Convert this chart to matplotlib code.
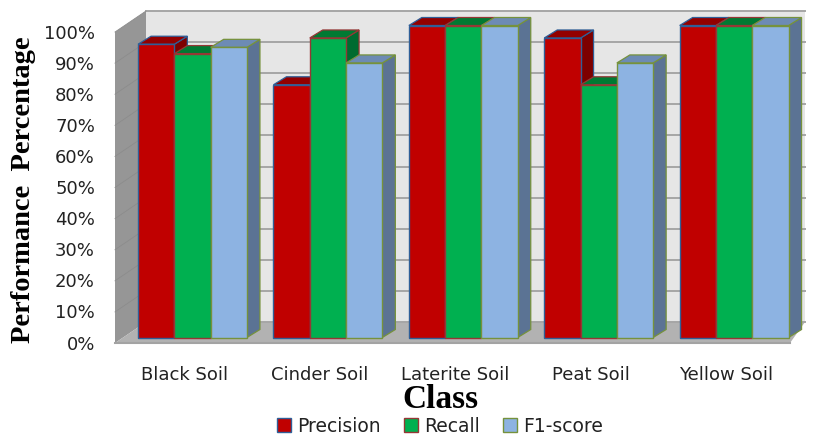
import matplotlib
matplotlib.use("Agg")
import matplotlib.pyplot as plt
import numpy as np

classes = ["Black Soil", "Cinder Soil", "Laterite Soil", "Peat Soil", "Yellow Soil"]
precision = [94, 81, 100, 96, 100]
recall = [91, 96, 100, 81, 100]
f1_score = [93, 88, 100, 88, 100]
ticks = list(range(0, 101, 10))

series = [
    ("Precision", precision, "#c00000", "#930000", "#7d0000", "#2f5f98"),
    ("Recall", recall, "#00b050", "#007a33", "#006b30", "#953735"),
    ("F1-score", f1_score, "#8db3e2", "#6d8bb4", "#5b7394", "#76923c"),
]

W, H = 815, 436
fig = plt.figure(figsize=(W / 100, H / 100), dpi=100)
ax = fig.add_axes([0, 0, 1, 1])

# map the whole figure to category / percent units
px_per_group = 135.4
px_per_pct = 3.12
x0_px = 192.5
y0_px = 337.5
ax.set_xlim((0 - x0_px) / px_per_group, (W - x0_px) / px_per_group)
ax.set_ylim((y0_px - H) / px_per_pct, y0_px / px_per_pct)
ax.axis("off")


def px(x, y):
    return (x - x0_px) / px_per_group, (y0_px - y) / px_per_pct


def poly(points, **kw):
    xs, ys = zip(*[px(a, b) for a, b in points])
    ax.fill(xs, ys, **kw)


# walls and floor
poly([(146, 11), (805, 11), (805, 322), (146, 322)], fc="#e6e6e6", ec="none", zorder=1)
poly([(115, 32), (146, 11), (146, 322), (115, 343)], fc="#969696", ec="none", zorder=1)
poly([(146, 322), (805, 322), (790, 343), (115, 343)], fc="#b2b2b2", ec="none", zorder=1)

for t in ticks:
    yb = 322 - 3.11 * t
    yf = 343 - 3.11 * t
    xa, ya = px(146, yb)
    xb, _ = px(805, yb)
    ax.plot([xa, xb], [ya, ya], color="#a6a6a6", lw=1.4, zorder=2)
    if t > 0:
        xc, yc = px(115, yf)
        ax.plot([xc, xa], [yc, ya], color="#8c8c8c", lw=0.6, zorder=2)
    ax.text(*px(95, yf + 1.5), f"{t}%", ha="right", va="center", fontsize=13,
            family="DejaVu Sans", color="#222222", zorder=5)
xa, ya = px(115, 343)
xb, _ = px(790, 343)
ax.plot([xa, xb], [ya, ya], color="#a3a3a3", lw=1.5, zorder=2)

# bars
bar_w = 36.3 / px_per_group
depth_x = 13 / px_per_group
depth_y = 8 / px_per_pct
z = 3
for g in range(len(classes)):
    for s, (name, vals, front, top, side, edge) in enumerate(series):
        x = g + (s - 1) * bar_w
        v = vals[g]
        l, r = x - bar_w / 2, x + bar_w / 2
        ax.fill([r, r + depth_x, r + depth_x, r], [0, depth_y, v + depth_y, v],
                fc=side, ec=edge, lw=0.9, zorder=z)
        ax.fill([l, r, r + depth_x, l + depth_x], [v, v, v + depth_y, v + depth_y],
                fc=top, ec=edge, lw=0.9, zorder=z)
        ax.bar(x, v, width=bar_w, color=front, edgecolor=edge, lw=1.0, zorder=z + 1,
               label=name if g == 0 else None)
        z += 2

for g, name in enumerate(classes):
    ax.text(g - 0.06, px(0, 375)[1], name, ha="center", va="center", fontsize=13,
            family="DejaVu Sans", color="#222222")

ax.text(*px(440, 399), "Class", ha="center", va="center", fontsize=24, fontweight="bold",
        family="Liberation Serif", color="black")
ax.text(*px(24, 190), "Performance  Percentage", ha="center", va="center", rotation=90,
        fontsize=20.5, fontweight="bold", family="Liberation Serif", color="black")

ax.legend(loc="center", bbox_to_anchor=(440 / W, 1 - 426 / H), ncol=3, frameon=False,
          handlelength=0.75, handleheight=0.75, handletextpad=0.35, columnspacing=1.2,
          prop={"family": "DejaVu Sans", "size": 13.5}, borderpad=0, labelcolor="#222222")

fig.savefig("out.png", dpi=100)
